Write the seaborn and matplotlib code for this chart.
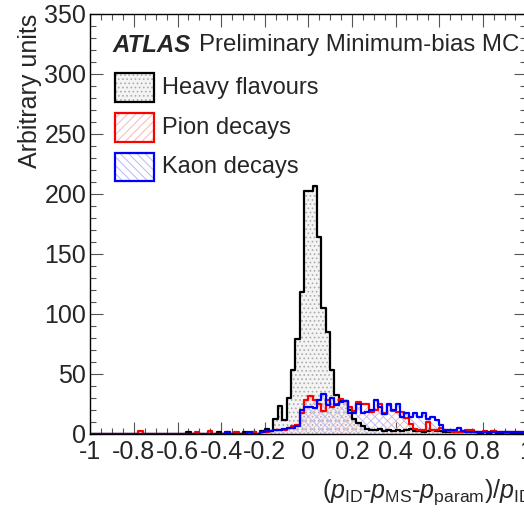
import numpy as np
import pandas as pd
import seaborn as sns
import matplotlib
matplotlib.use("Agg")
import matplotlib.pyplot as plt
from matplotlib.patches import Rectangle
from matplotlib.ticker import MultipleLocator, FuncFormatter

# ---- data, 100 bins from -1 to 1 ----
bin_edges = [round(-1.0 + 0.02 * k, 2) for k in range(101)]

heavy = [0, 0, 0, 0, 0, 0, 0, 0, 0,
         0, 0, 0, 0, 0, 0, 0, 0, 0, 0,
         0, 0, 0, 1, 0, 0, 0, 0, 0, 0,
         1, 0, 0, 0, 0, 0, 1, 0, 1, 0,
         2, 4, 2, 12, 23, 11, 30, 53, 79, 118,
         202, 202, 206, 164, 105, 85, 53, 32, 28, 27,
         20, 12, 9, 6, 4, 3, 3, 4, 2, 3,
         2, 3, 2, 3, 4, 2, 2, 1, 2, 3,
         2, 2, 1, 1, 1, 1, 2, 1, 1, 1,
         0, 1, 0, 1, 0, 0, 1, 0, 0, 0, 0]

pion = [0, 0, 0, 0, 0, 0, 0, 0, 0,
        0, 0, 2, 0, 0, 0, 0, 0, 0, 0,
        0, 0, 0, 0, 0, 1, 0, 0, 2, 0,
        0, 0, 1, 0, 1, 0, 0, 0, 1, 0,
        1, 1, 2, 3, 3, 3, 5, 6, 7, 17,
        28, 31, 28, 25, 19, 28, 22, 25, 29, 27,
        22, 19, 26, 25, 25, 18, 20, 25, 17, 24,
        19, 18, 18, 13, 8, 4, 3, 3, 10, 3,
        3, 5, 3, 2, 1, 1, 1, 3, 3, 1,
        1, 2, 1, 2, 1, 1, 0, 1, 1, 1, 1]

kaon = [0, 0, 0, 0, 0, 0, 0, 0, 0,
        0, 0, 0, 0, 0, 0, 0, 0, 0, 0,
        0, 0, 0, 0, 0, 0, 0, 0, 0, 0,
        0, 0, 1, 0, 0, 0, 0, 1, 0, 0,
        1, 2, 2, 3, 3, 4, 5, 5, 6, 20,
        22, 22, 21, 28, 33, 24, 30, 24, 26, 27,
        17, 17, 25, 17, 18, 20, 28, 22, 16, 25,
        20, 25, 14, 17, 14, 17, 14, 17, 12, 14,
        11, 7, 3, 3, 3, 5, 2, 1, 1, 1,
        1, 1, 1, 1, 1, 1, 1, 1, 1, 1, 1]

labels = ["Heavy flavours", "Pion decays", "Kaon decays"]
line_colors = ["black", "#ff0000", "#0000ff"]
fill_faces = ["#f4f4f4", (1, 1, 1, 0), (1, 1, 1, 0)]
hatch_colors = ["#acacac", "#f7b8b8", "#b8b8f7"]
hatches = ["....", "////", "\\\\\\\\"]

# ---- style ----
sns.set_style("ticks")
plt.rcParams["font.family"] = ["Liberation Sans", "DejaVu Sans"]
plt.rcParams["mathtext.fontset"] = "custom"
plt.rcParams["mathtext.rm"] = "Liberation Sans"
plt.rcParams["mathtext.it"] = "Liberation Sans:italic"
plt.rcParams["axes.unicode_minus"] = False
plt.rcParams["hatch.linewidth"] = 0.7

W, H = 524, 513
fig = plt.figure(figsize=(W / 100, H / 100), dpi=100)
ax = fig.add_axes([90.3 / W, 79.5 / H, 436 / W, 420 / H])

centers = [(a + b) / 2 for a, b in zip(bin_edges[:-1], bin_edges[1:])]
series = [heavy, pion, kaon]
frames = [pd.DataFrame({"x": centers, "w": vals}) for vals in series]

# fills (hatched) first
for df, face, hc, ht in zip(frames, fill_faces, hatch_colors, hatches):
    with plt.rc_context({"hatch.color": hc}):
        sns.histplot(data=df, x="x", weights="w", bins=bin_edges,
                     element="step", fill=True, color=hc, facecolor=face,
                     edgecolor=hc, linewidth=0, hatch=ht, ax=ax)
# outlines
for df, lc in zip(frames, line_colors):
    sns.histplot(data=df, x="x", weights="w", bins=bin_edges,
                 element="step", fill=False, color=lc, linewidth=1.6, ax=ax)

ax.set_xlim(-1, 1)
ax.set_ylim(0, 350)
ax.set_xlabel("")
ax.set_ylabel("")
for s in ax.spines.values():
    s.set_visible(True)
    s.set_linewidth(1.0)
    s.set_color("black")

ax.xaxis.set_major_locator(MultipleLocator(0.2))
ax.xaxis.set_minor_locator(MultipleLocator(0.05))
ax.yaxis.set_major_locator(MultipleLocator(50))
ax.yaxis.set_minor_locator(MultipleLocator(10))
ax.xaxis.set_major_formatter(FuncFormatter(lambda v, p: "%g" % round(v, 2)))
ax.yaxis.set_major_formatter(FuncFormatter(lambda v, p: "%g" % v))
ax.tick_params(which="both", direction="in", top=True, right=True,
               color="#555555", width=0.8)
ax.tick_params(which="major", length=9, labelsize=18)
ax.tick_params(axis="x", which="major", pad=5)
ax.tick_params(axis="y", which="major", pad=3)
ax.tick_params(which="minor", length=4.5)

# texts
fig.text(113 / W, 1 - 45 / H, "ATLAS", fontsize=17.3, fontweight="bold",
         fontstyle="italic", ha="left", va="center")
fig.text(199 / W, 1 - 45 / H, "Preliminary Minimum-bias MC", fontsize=17.3,
         ha="left", va="center")

box_tops = [73.3, 113.3, 152.7]
for top, lab, lc, face, hc, ht in zip(box_tops, labels, line_colors,
                                      fill_faces, hatch_colors, hatches):
    x0, w, h = 115, 39, 28.5
    fig.add_artist(Rectangle((x0 / W, 1 - (top + h) / H), w / W, h / H,
                             transform=fig.transFigure, facecolor=face,
                             edgecolor=hc, linewidth=0, hatch=ht))
    fig.add_artist(Rectangle((x0 / W, 1 - (top + h) / H), w / W, h / H,
                             transform=fig.transFigure, facecolor="none",
                             edgecolor=lc, linewidth=1.6))
    fig.text(162 / W, 1 - (top + h / 2) / H, lab, fontsize=17,
             ha="left", va="center")

fig.text(30 / W, 1 - 14 / H, "Arbitrary units", fontsize=18, rotation=90,
         ha="center", va="top")
fig.text(322 / W, 15 / H,
         r"($p_{\mathrm{ID}}$-$p_{\mathrm{MS}}$-$p_{\mathrm{param}}$)/$p_{\mathrm{ID}}$",
         fontsize=18, ha="left", va="baseline")

fig.savefig("out.png", dpi=100)
